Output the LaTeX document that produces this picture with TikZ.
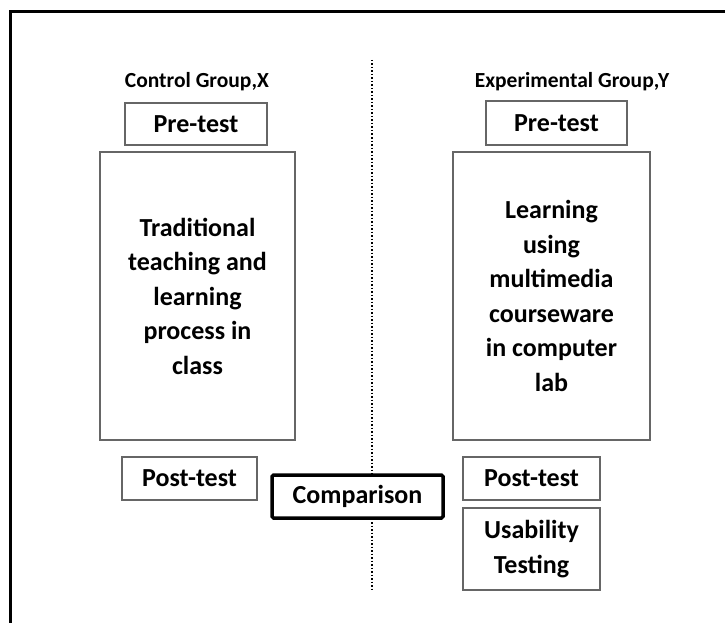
\documentclass[tikz,border=0pt]{standalone}
\usepackage{fontspec}
\setmainfont{Carlito}
\begin{document}
\begin{tikzpicture}[x=1pt,y=-1pt,
  titletext/.style={font=\bfseries\fontsize{21.5}{25}\selectfont, inner sep=0pt},
  stagebox/.style={draw=black!60, line width=2.2pt, inner sep=0pt, align=center,
    font=\bfseries\fontsize{26}{34.5}\selectfont, fill=white},
  compbox/.style={draw=black, line width=3.5pt, rounded corners=1.5pt, inner sep=0pt,
    font=\bfseries\fontsize{26}{30}\selectfont, fill=white},
  frameline/.style={line width=3pt, black},
  divider/.style={dotted, line width=1.5pt, black}]
\useasboundingbox (0,0) rectangle (725,623);
% frame
\coordinate (fTL) at (10,12);
\coordinate (fTR) at (725,12);
\coordinate (fBL) at (10,623);
\draw[frameline] (fBL) -- (fTL) -- (fTR);
% divider
\coordinate (divTop) at (372,60);
\coordinate (divBot) at (372,592);
\draw[divider] (divTop) -- (divBot);
% titles
\node[titletext] (titleL) at (197,82) {Control Group,X};
\node[titletext] (titleR) at (572,82) {Experimental Group,Y};
% left column
\node[stagebox, minimum width=142pt, minimum height=42pt] (preL) at (196,124) {Pre-test};
\node[stagebox, minimum width=195pt, minimum height=288pt] (mainL) at (197.5,296)
  {Traditional\\teaching and\\learning\\process in\\class};
\node[stagebox, minimum width=135pt, minimum height=43pt] (postL) at (189.5,478.5) {Post-test};
% comparison
\node[compbox, minimum width=171pt, minimum height=43pt] (comp) at (357.5,496.5) {Comparison};
% right column
\node[stagebox, minimum width=141pt, minimum height=44pt] (preR) at (556.5,123) {Pre-test};
\node[stagebox, minimum width=197pt, minimum height=288pt] (mainR) at (551.5,296)
  {Learning\\using\\multimedia\\courseware\\in computer\\lab};
\node[stagebox, minimum width=137pt, minimum height=43pt] (postR) at (531.5,478.5) {Post-test};
\node[stagebox, minimum width=137pt, minimum height=82pt] (usab) at (531.5,549) {Usability\\Testing};
\end{tikzpicture}
\end{document}
